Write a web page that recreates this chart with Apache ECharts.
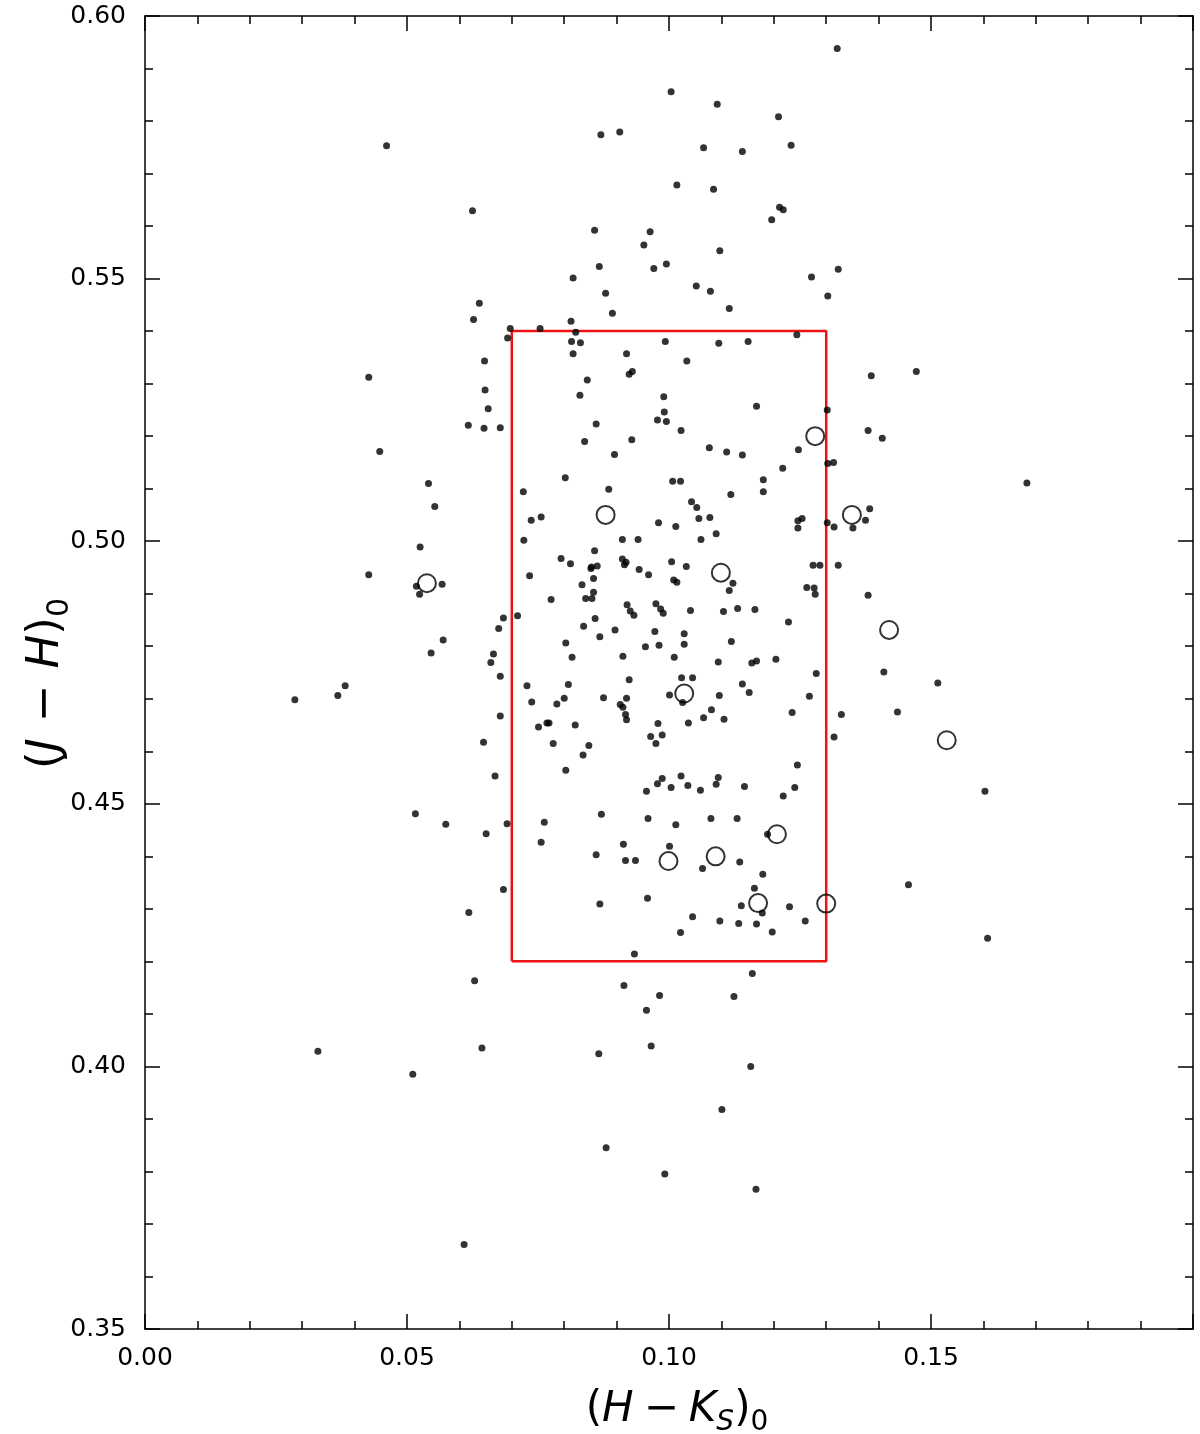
<!DOCTYPE html>
<html>
<head>
<meta charset="utf-8">
<script src="https://cdn.jsdelivr.net/npm/echarts@6/dist/echarts.min.js"></script>
<style>
html,body{margin:0;padding:0;background:#fff;overflow:hidden;}
#chart{width:1200px;height:1434px;}
</style>
</head>
<body>
<div id="chart"></div>
<script>
// ---- data ----
const xTickLabels = ['0.00', '0.05', '0.10', '0.15'];
const yTickLabels = ['0.35', '0.40', '0.45', '0.50', '0.55', '0.60'];

const dotPoints = [
[0.0461,0.5753],[0.0625,0.5629],[0.0638,0.5453],[0.0627,0.5422],[0.0697,0.5405],[0.0692,0.5387],
[0.1004,0.5856],[0.1092,0.5832],[0.1209,0.5808],[0.0870,0.5774],[0.0906,0.5779],[0.1066,0.5749],
[0.1140,0.5742],[0.1015,0.5678],[0.1085,0.5670],[0.1211,0.5636],[0.1196,0.5612],[0.0858,0.5592],
[0.0964,0.5589],[0.0952,0.5564],[0.1097,0.5553],[0.0867,0.5523],[0.0971,0.5519],[0.0995,0.5528],
[0.0817,0.5501],[0.1052,0.5486],[0.1079,0.5476],[0.0879,0.5472],[0.1115,0.5443],[0.0892,0.5434],
[0.0813,0.5419],[0.0754,0.5405],[0.0822,0.5398],[0.0814,0.5380],[0.0831,0.5378],[0.0993,0.5380],
[0.1095,0.5377],[0.1151,0.5380],
[0.1321,0.5938],[0.1233,0.5754],[0.1218,0.5631],[0.1323,0.5518],[0.1272,0.5503],[0.1303,0.5467],[0.1244,0.5393],
[0.0648,0.5343],[0.0427,0.5312],[0.0649,0.5288],[0.0655,0.5252],[0.0617,0.5221],[0.0647,0.5215],
[0.0678,0.5216],[0.0448,0.5171],[0.0541,0.5110],[0.0553,0.5066],[0.0722,0.5094],[0.0737,0.5040],
[0.0525,0.4989],[0.0723,0.5002],[0.0427,0.4936],[0.0518,0.4914],[0.0524,0.4899],[0.0567,0.4918],
[0.0734,0.4934],[0.0684,0.4854],[0.0711,0.4858],[0.0675,0.4834],[0.0569,0.4812],
[0.0546,0.4787],[0.0665,0.4785],[0.0660,0.4769],[0.0678,0.4743],[0.0729,0.4725],[0.0738,0.4694],
[0.0382,0.4725],[0.0368,0.4706],[0.0286,0.4698],[0.0678,0.4667],[0.0646,0.4617],[0.0668,0.4553],
[0.0516,0.4481],[0.0574,0.4461],[0.0691,0.4462],[0.0651,0.4443],[0.0684,0.4337],[0.0618,0.4293],
[0.0817,0.5357],[0.0919,0.5357],[0.1034,0.5343],[0.0924,0.5318],[0.0930,0.5323],[0.0844,0.5307],
[0.0830,0.5278],[0.0990,0.5275],[0.1167,0.5257],[0.0991,0.5246],[0.0978,0.5231],[0.0995,0.5228],
[0.0861,0.5223],[0.1023,0.5211],[0.0839,0.5190],[0.0929,0.5193],[0.1077,0.5178],[0.1110,0.5170],
[0.1140,0.5164],[0.0896,0.5165],[0.0802,0.5121],[0.1007,0.5114],[0.1022,0.5114],[0.1180,0.5117],
[0.1180,0.5094],[0.0885,0.5099],[0.1118,0.5089],[0.1043,0.5075],[0.1053,0.5064],[0.1057,0.5043],
[0.1078,0.5045],[0.0756,0.5046],[0.0980,0.5035],[0.1013,0.5028],[0.1090,0.5014],[0.1061,0.5003],
[0.0911,0.5003],[0.0941,0.5003],[0.0858,0.4982],[0.0794,0.4967],[0.0812,0.4957],[0.0852,0.4951],
[0.0863,0.4953],[0.0851,0.4948],[0.0911,0.4966],[0.0918,0.4960],[0.0915,0.4955],[0.0943,0.4946],
[0.0961,0.4936],[0.1005,0.4961],[0.1033,0.4952],[0.1009,0.4926],[0.1015,0.4922],[0.1122,0.4920],
[0.1115,0.4906],[0.0856,0.4929],[0.0834,0.4917],[0.0856,0.4903],[0.0841,0.4891],[0.0853,0.4891],
[0.0775,0.4889],[0.0920,0.4879],[0.0926,0.4867],[0.0933,0.4859],[0.0975,0.4881],[0.0984,0.4871],
[0.0989,0.4863],[0.1041,0.4868],[0.1104,0.4866],[0.1131,0.4872],[0.1164,0.4870],[0.0859,0.4853],
[0.0837,0.4838],[0.0897,0.4831],[0.0973,0.4828],[0.1029,0.4824],[0.0868,0.4818],[0.0803,0.4806],
[0.0955,0.4799],[0.0981,0.4802],[0.1029,0.4804],[0.1119,0.4809],
[0.1386,0.5315],[0.1472,0.5323],[0.1302,0.5250],[0.1380,0.5211],[0.1407,0.5196],[0.1247,0.5174],
[0.1217,0.5139],[0.1303,0.5148],[0.1314,0.5150],[0.1683,0.5111],[0.1383,0.5062],[0.1375,0.5040],
[0.1351,0.5025],[0.1246,0.5039],[0.1254,0.5043],[0.1246,0.5025],[0.1302,0.5035],[0.1315,0.5027],
[0.1275,0.4954],[0.1288,0.4954],[0.1323,0.4954],[0.1263,0.4912],[0.1277,0.4911],[0.1279,0.4899],
[0.1380,0.4897],[0.1228,0.4846],
[0.0815,0.4779],[0.0912,0.4781],[0.1010,0.4779],[0.1094,0.4770],[0.1158,0.4768],[0.1167,0.4772],
[0.1204,0.4775],[0.0808,0.4727],[0.0800,0.4701],[0.0786,0.4690],[0.0875,0.4702],[0.0924,0.4736],
[0.0919,0.4701],[0.0907,0.4689],[0.0912,0.4684],[0.0917,0.4670],[0.0919,0.4660],[0.1024,0.4740],
[0.1045,0.4740],[0.1001,0.4707],[0.1026,0.4693],[0.1096,0.4706],[0.1140,0.4728],[0.1153,0.4712],
[0.1081,0.4679],[0.1066,0.4664],[0.1105,0.4661],[0.1037,0.4654],[0.0751,0.4646],[0.0767,0.4654],
[0.0771,0.4654],[0.0821,0.4650],[0.0979,0.4653],[0.0965,0.4628],[0.0987,0.4631],[0.0975,0.4615],
[0.0779,0.4615],[0.0847,0.4611],[0.0836,0.4593],[0.0803,0.4564],[0.0957,0.4524],[0.0978,0.4538],
[0.0987,0.4548],[0.1004,0.4531],[0.1023,0.4553],[0.1036,0.4535],[0.1060,0.4526],[0.1090,0.4537],
[0.1094,0.4550],[0.1144,0.4533],[0.0871,0.4480],[0.0762,0.4465],[0.0756,0.4427],[0.0960,0.4472],
[0.1013,0.4460],[0.1080,0.4472],[0.1130,0.4472],[0.1188,0.4442],[0.0913,0.4423],[0.0861,0.4403],
[0.0917,0.4392],[0.0936,0.4392],[0.1001,0.4419],[0.1064,0.4377],[0.1135,0.4389],[0.1179,0.4366],
[0.1163,0.4339],[0.1138,0.4306],[0.1178,0.4292],[0.0959,0.4320],[0.0868,0.4309],[0.1045,0.4285],
[0.1097,0.4277],[0.1133,0.4272],[0.1167,0.4271],[0.1197,0.4256],[0.1022,0.4255],[0.0934,0.4214],
[0.1281,0.4748],[0.1410,0.4751],[0.1513,0.4730],[0.1268,0.4705],[0.1235,0.4674],[0.1329,0.4670],
[0.1436,0.4675],[0.1315,0.4627],[0.1245,0.4574],[0.1240,0.4531],[0.1218,0.4515],[0.1603,0.4524],
[0.1457,0.4346],[0.1230,0.4304],[0.1260,0.4277],[0.1608,0.4244],
[0.0629,0.4163],[0.0330,0.4029],[0.0643,0.4035],[0.0511,0.3985],[0.0609,0.3661],
[0.1159,0.4177],[0.0914,0.4154],[0.0982,0.4135],[0.1124,0.4133],[0.0957,0.4107],[0.0966,0.4039],
[0.0866,0.4024],[0.1156,0.4000],[0.1101,0.3918],[0.0880,0.3845],[0.0992,0.3795],[0.1166,0.3766]
];

const openCircles = [
[0.0538,0.4920],[0.0879,0.5050],[0.1099,0.4940],[0.1279,0.5200],[0.1349,0.5050],
[0.1420,0.4831],[0.1530,0.4621],[0.1029,0.4710],[0.1206,0.4442],[0.0999,0.4391],
[0.1089,0.4400],[0.1170,0.4311],[0.1300,0.4310]
];

const boxX = [0.07, 0.07, 0.13, 0.13, 0.07];
const boxY = [0.42, 0.54, 0.54, 0.42, 0.42];

// ---- chart ----
const FONT = 'DejaVu Sans';
const chart = echarts.init(document.getElementById('chart'));

const tickCommon = { show: true, inside: true, length: 15, lineStyle: { color: '#000', width: 1.5 } };
const minorCommon = { show: true, splitNumber: 5, length: 8, lineStyle: { color: '#000', width: 1.5 } };
const lineCommon = { show: true, onZero: false, lineStyle: { color: '#000', width: 1.5 } };

function makeRich(size, subSize, padStart, padEnd, minusPad) {
  const base = { fontSize: size, fontFamily: FONT, color: '#000', lineHeight: size + 12, verticalAlign: 'middle' };
  return {
    st: Object.assign({}, base, { padding: [0, 0, 0, padStart] }),
    p: Object.assign({}, base),
    m: Object.assign({}, base, { padding: [0, minusPad, 0, minusPad] }),
    i: Object.assign({}, base, { fontStyle: 'italic' }),
    s: { fontSize: subSize, fontFamily: FONT, color: '#000', lineHeight: subSize, verticalAlign: 'bottom', padding: [0, padEnd, 0, 0] },
    si: { fontSize: subSize, fontFamily: FONT, fontStyle: 'italic', color: '#000', lineHeight: subSize, verticalAlign: 'bottom' }
  };
}

const option = {
  backgroundColor: '#fff',
  animation: false,
  grid: { left: 145, width: 1048, top: 16, height: 1313, containLabel: false, outerBoundsMode: 'none' },
  xAxis: [{
    type: 'value', min: 0, max: 0.2, interval: 0.05, position: 'bottom',
    axisLine: lineCommon, axisTick: tickCommon, minorTick: minorCommon,
    splitLine: { show: false },
    axisLabel: {
      margin: 17, fontSize: 25, fontFamily: FONT, color: '#000',
      formatter: function (v) { const i = Math.round(v / 0.05); return i < xTickLabels.length ? xTickLabels[i] : ''; }
    },
    name: '{st|(}{i|H}{m|−}{i|K}{si|S}{p|)}{s|0}',
    nameLocation: 'middle', nameGap: 54, nameMoveOverlap: false,
    nameTextStyle: { rich: makeRich(42, 28, 16, 0, 10) }
  }, {
    type: 'value', min: 0, max: 0.2, interval: 0.05, position: 'top',
    axisLine: lineCommon, axisTick: tickCommon, minorTick: minorCommon,
    splitLine: { show: false }, axisLabel: { show: false }
  }],
  yAxis: [{
    type: 'value', min: 0.35, max: 0.6, interval: 0.05, position: 'left',
    axisLine: lineCommon, axisTick: tickCommon, minorTick: minorCommon,
    splitLine: { show: false },
    axisLabel: {
      margin: 19, fontSize: 25, fontFamily: FONT, color: '#000',
      formatter: function (v) { const i = Math.round((v - 0.35) / 0.05); return yTickLabels[i] || ''; }
    },
    name: '{st|(}{i|J}{m|−}{i|H}{p|)}{s|0}',
    nameLocation: 'middle', nameGap: 70, nameRotate: 90, nameMoveOverlap: false,
    nameTextStyle: { rich: makeRich(45, 30, 0, 22, 16) }
  }, {
    type: 'value', min: 0.35, max: 0.6, interval: 0.05, position: 'right',
    axisLine: lineCommon, axisTick: tickCommon, minorTick: minorCommon,
    splitLine: { show: false }, axisLabel: { show: false }
  }],
  series: [{
    type: 'line',
    data: boxX.map(function (x, k) { return [x, boxY[k]]; }),
    symbol: 'none',
    lineStyle: { color: '#ee1111', width: 2.5 },
    silent: true, z: 2
  }, {
    type: 'scatter',
    data: dotPoints,
    symbol: 'circle', symbolSize: 7,
    itemStyle: { color: '#000' },
    z: 3
  }, {
    type: 'scatter',
    data: openCircles,
    symbol: 'circle', symbolSize: 18,
    itemStyle: { color: 'rgba(0,0,0,0)', borderColor: '#000', borderWidth: 2 },
    z: 4
  }]
};
chart.setOption(option);
</script>
</body>
</html>
